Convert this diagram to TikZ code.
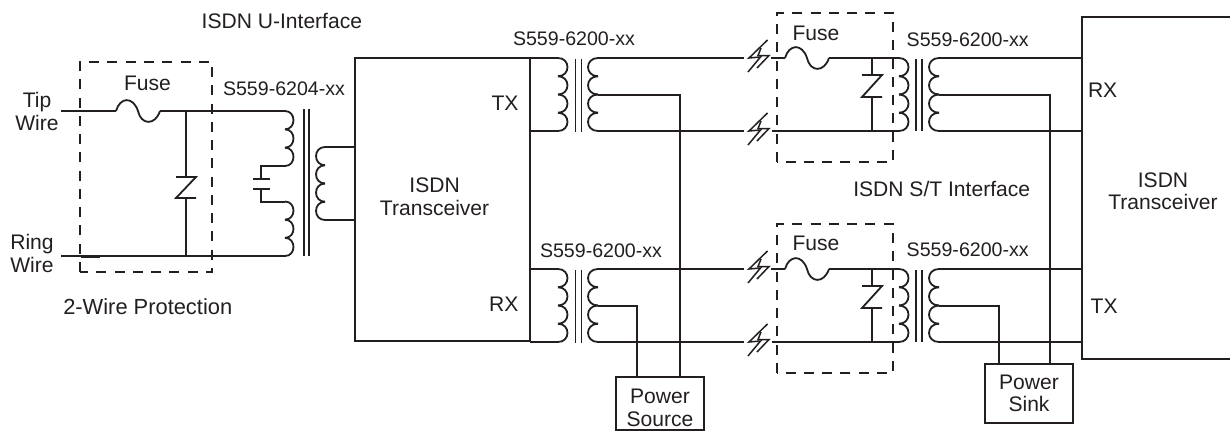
\documentclass[tikz,border=0pt]{standalone}
\usepackage{fontspec}
\setmainfont{Liberation Sans}
\definecolor{ink}{HTML}{231F20}
\tikzset{
  wire/.style={draw=ink,line width=1.8pt*0.75,line join=miter},
  dashbox/.style={draw=ink,line width=1.8pt*0.75,dash pattern=on 7.5pt off 6.2pt},
  thinwire/.style={draw=ink,line width=1.5pt*0.75},
  lbl/.style={text=ink,font=\fontsize{15.8}{16.7}\selectfont,inner sep=0pt,outer sep=0pt},
  partno/.style={lbl,font=\fontsize{14.7}{16.7}\selectfont,anchor=base west},
  lblw/.style={lbl,anchor=base west},
  lble/.style={lbl,anchor=base east},
  lblc/.style={lbl,anchor=base,align=center},
  boxn/.style={draw=ink,line width=1.8pt*0.75,lbl,align=center,anchor=north west,outer sep=0pt}
}
% coil: x, y top, bumps, bump height, width (signed)
\newcommand{\mycoil}[5]{\foreach \k in {1,...,#3}{
  \draw[wire] ({#1},{#2+(\k-1)*#4}) .. controls ({#1+1.33*#5},{#2+(\k-1)*#4}) and ({#1+1.33*#5},{#2+\k*#4}) .. ({#1},{#2+\k*#4});}}
% fuse: left x, y
\newcommand{\myfuse}[2]{\draw[wire] (#1,#2) .. controls ({#1+4},{#2-14}) and ({#1+17},{#2-15}) .. ({#1+22},#2) .. controls ({#1+25},{#2+14}) and ({#1+39},{#2+15}) .. ({#1+44},#2);}
% zener: x, y top bar, y bottom bar
\newcommand{\myzener}[3]{\draw[wire] ({#1-10},#2) -- ({#1+10},#2) -- ({#1-10},#3) -- ({#1+10},#3);}
% lightning: centre x, y
\newcommand{\mybolt}[2]{
  \draw[thinwire] ({#1+10.5},{#2-18}) -- ({#1-8},{#2}) -- ({#1+3.5},{#2-1}) -- ({#1-9},{#2+14});
  \draw[thinwire] ({#1+4},{#2-10}) -- ({#1+1},{#2-2.5}) -- ({#1+12},{#2-2.5}) -- ({#1},{#2+10});}
\begin{document}
\begin{tikzpicture}[x=0.75pt,y=-0.75pt]
\useasboundingbox (0,0) rectangle (1230,432);
\fill[white] (0,0) rectangle (1230,432);
% ---- boxes
\coordinate (tL) at (355,58); \coordinate (tR) at (530,58);
\coordinate (bL) at (355,341); \coordinate (bR) at (530,341);
\draw[wire] (tR) -- (tL) -- (bL) -- (bR) -- cycle;
\coordinate (rT) at (1230,17); \coordinate (rTL) at (1082,17);
\coordinate (rBL) at (1082,359); \coordinate (rB) at (1230,359);
\draw[wire] (rT) -- (rTL) -- (rBL) -- (rB);
\node[boxn,minimum width=66pt,minimum height=39.75pt] (psrc) at (616,377) {\rule{0pt}{18pt}Power\\[0.55pt]Source\rule[-1.5pt]{0pt}{1.5pt}};
\node[boxn,minimum width=66pt,minimum height=44.25pt] (psnk) at (985,364) {\rule{0pt}{18pt}Power\\[-0.4pt]Sink\rule[-7pt]{0pt}{7pt}};
% ---- dashed protection boxes
\draw[dashbox] (80,272) -- (80,62) -- (212,62) -- (212,272) -- cycle;
\draw[dashbox] (777,162) -- (777,13) -- (893,13) -- (893,162) -- cycle;
\draw[dashbox] (777,373) -- (777,224) -- (893,224) -- (893,373) -- cycle;
% ---- left section
\coordinate (tip) at (61,111); \coordinate (ring) at (61,256);
\coordinate (f0a) at (116,111); \coordinate (f0b) at (160,111);
\coordinate (c1t) at (285,111); \coordinate (c1b) at (285,256);
\coordinate (z0t) at (186,111); \coordinate (z0b) at (186,256);
\coordinate (z0u) at (186,177); \coordinate (z0d) at (186,198);
\draw[wire] (tip) -- (f0a); \draw[wire] (f0b) -- (c1t);
\draw[wire] (ring) -- (c1b);
\draw[wire,line width=3pt*0.75] (81,256) -- (100,256);
\draw[wire] (z0t) -- (z0u); \draw[wire] (z0d) -- (z0b);
\myfuse{116}{111}
\myzener{186}{177}{198}
\mycoil{285}{111}{3}{18.33}{8.5}
\mycoil{285}{201.5}{3}{18.17}{8.5}
\coordinate (capA) at (261,179); \coordinate (capB) at (261,189);
\coordinate (c1m) at (285,166); \coordinate (c2m) at (285,202);
\draw[wire] (c1m) -| (capA); \draw[wire] (c2m) -| (capB);
\draw[wire] (253,179) -- (270,179); \draw[wire] (253,189) -- (270,189);
\draw[wire] (304,109) -- (304,256); \draw[wire] (309,109) -- (309,256);
\mycoil{325}{147}{4}{18.25}{-9}
\draw[wire] (325,147) -- (355,147);
\draw[wire] (325,220) -- (355,220);
% ---- transformers and line sections
\foreach \yy in {58,269}{
  \draw[wire] (530,\yy) -- (558,\yy);
  \draw[wire] (530,\yy+73) -- (558,\yy+73);
  \mycoil{558}{\yy}{4}{18.25}{9.5}
  \draw[wire] (575.5,\yy+1) -- (575.5,\yy+74);
  \draw[wire] (581.5,\yy+1) -- (581.5,\yy+74);
  \mycoil{598}{\yy}{4}{18.25}{-10}
  \draw[wire] (598,\yy) -- (744,\yy);
  \draw[wire] (598,\yy+73) -- (744,\yy+73);
  \mybolt{757}{\yy}
  \mybolt{757}{\yy+73}
  \draw[wire] (772,\yy+73) -- (899,\yy+73);
  \draw[wire] (771,\yy) -- (785,\yy);
  \myfuse{785}{\yy}
  \draw[wire] (829,\yy) -- (899,\yy);
  \draw[wire] (872,\yy) -- (872,\yy+17);
  \draw[wire] (872,\yy+39) -- (872,\yy+73);
  \myzener{872}{\yy+17}{\yy+39}
  \mycoil{899}{\yy}{4}{18.25}{9.5}
  \draw[wire] (916,\yy+1) -- (916,\yy+73);
  \draw[wire] (922,\yy+1) -- (922,\yy+73);
  \mycoil{939}{\yy}{4}{18.25}{-10}
  \draw[wire] (939,\yy) -- (1082,\yy);
  \draw[wire] (939,\yy+73) -- (1082,\yy+73);
}
\draw[wire] (530,58) -- (530,341);
% ---- power feeds
\draw[wire] (598,95) -| (680,377);
\draw[wire] (598,306) -| (637,377);
\draw[wire] (939,95) -| (1050,364);
\draw[wire] (939,306) -| (999,364);
% ---- labels
\node[lblw] (l1) at (201.7,28) {ISDN U-Interface};
\node[lblw] (l2) at (124,90.7) {Fuse};
\node[lblc] (l3) at (37,130) {Tip\\[0.5pt]Wire};
\node[lblc] (l4) at (32,272.7) {Ring\\[0.5pt]Wire};
\node[lblw,font=\fontsize{16.4}{18}\selectfont] (l5) at (63.3,314) {2-Wire Protection};
\node[partno] (l6) at (223,95.7) {S559-6204-xx};
\node[partno] (l7) at (513,45) {S559-6200-xx};
\node[partno] (l8) at (540,257) {S559-6200-xx};
\node[partno] (l9) at (906.7,46.7) {S559-6200-xx};
\node[partno] (l10) at (906.7,256.7) {S559-6200-xx};
\node[lblw] (l11) at (792.5,40) {Fuse};
\node[lblw] (l12) at (792.5,250.7) {Fuse};
\node[lble] (l13) at (518.5,110) {TX};
\node[lble] (l14) at (518.5,311.7) {RX};
\node[lblc] (l15) at (434.6,215) {ISDN\\Transceiver};
\node[lblc] (l16) at (1163,209.3) {ISDN\\Transceiver};
\node[lblw] (l17) at (853.3,196.7) {ISDN S/T Interface};
\node[lblw] (l18) at (1088,97.3) {RX};
\node[lblw] (l19) at (1090.7,313) {TX};
\end{tikzpicture}
\end{document}
